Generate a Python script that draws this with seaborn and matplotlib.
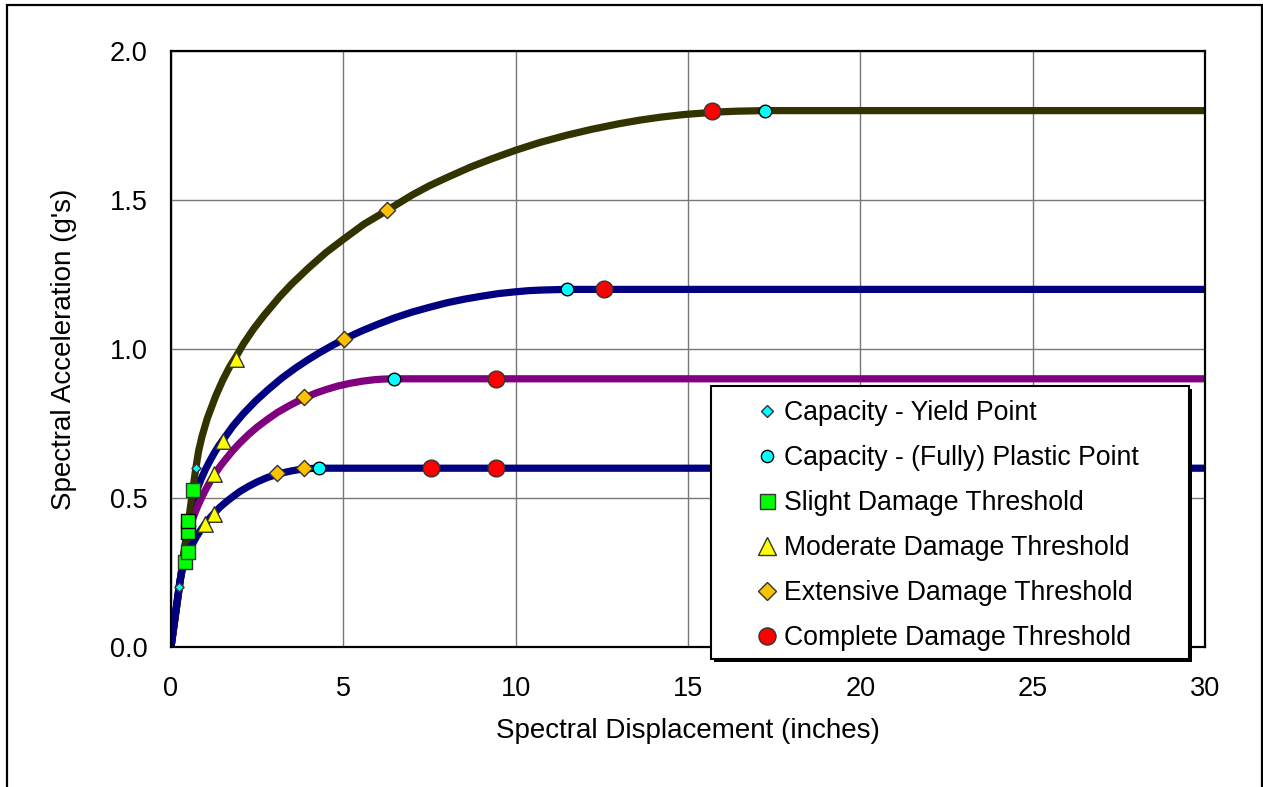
import matplotlib
matplotlib.use("Agg")
import matplotlib.pyplot as plt
from matplotlib.lines import Line2D
from matplotlib.patches import Rectangle
import seaborn as sns

# Capacity curves: spectral displacement (inches) vs spectral acceleration (g)
olive_sd = [0, 0.72, 0.8, 0.9, 1.05, 1.16, 1.3, 1.5, 1.7, 1.89, 2.1, 2.4, 2.7, 3.15,
            3.5, 4.0, 4.5, 5.0, 5.6, 6.28, 7.0, 7.5, 8.0, 8.7, 9.3, 10.0, 10.7, 11.5,
            12.2, 13.0, 13.6, 14.2, 14.9, 15.7, 16.0, 16.4, 17.24, 30]
olive_sa = [0, 0.60, 0.657, 0.707, 0.766, 0.80, 0.843, 0.895, 0.940, 0.975, 1.017,
            1.068, 1.113, 1.175, 1.218, 1.273, 1.324, 1.368, 1.419, 1.466, 1.517,
            1.548, 1.575, 1.611, 1.638, 1.667, 1.693, 1.718, 1.737, 1.756, 1.768,
            1.778, 1.787, 1.794, 1.796, 1.798, 1.80, 1.80]

navy_hi_sd = [0, 0.48, 0.54, 0.6, 0.68, 0.77, 0.88, 1.0, 1.13, 1.26, 1.39, 1.52, 1.8,
              2.1, 2.45, 2.8, 3.2, 3.6, 3.95, 4.3, 4.65, 5.02, 5.5, 6.0, 6.5, 7.0, 7.5,
              8.0, 8.5, 9.0, 9.5, 10.0, 10.4, 10.8, 11.1, 11.5, 30]
navy_hi_sa = [0, 0.40, 0.44, 0.47, 0.503, 0.533, 0.565, 0.596, 0.625, 0.652, 0.676,
              0.697, 0.742, 0.783, 0.825, 0.862, 0.901, 0.935, 0.962, 0.987, 1.010,
              1.033, 1.059, 1.083, 1.105, 1.124, 1.140, 1.155, 1.167, 1.177, 1.186,
              1.192, 1.196, 1.198, 1.199, 1.20, 1.20]

purple_sd = [0, 0.36, 0.4, 0.45, 0.5, 0.55, 0.6, 0.65, 0.72, 0.8, 0.9, 1.0, 1.13, 1.26,
             1.43, 1.6, 1.8, 2.0, 2.25, 2.5, 2.8, 3.1, 3.45, 3.85, 4.2, 4.5, 4.85, 5.2,
             5.55, 5.9, 6.15, 6.46, 30]
purple_sa = [0, 0.30, 0.329, 0.357, 0.380, 0.401, 0.419, 0.436, 0.457, 0.479, 0.504,
             0.527, 0.554, 0.578, 0.607, 0.632, 0.660, 0.685, 0.713, 0.738, 0.764,
             0.788, 0.811, 0.835, 0.852, 0.864, 0.876, 0.885, 0.892, 0.897, 0.899,
             0.90, 0.90]

navy_lo_sd = [0, 0.23, 0.26, 0.3, 0.35, 0.4, 0.45, 0.5, 0.6, 0.7, 0.83, 0.99, 1.12,
              1.26, 1.42, 1.6, 1.8, 2.0, 2.25, 2.5, 2.8, 3.08, 3.3, 3.5, 3.7, 3.86,
              4.05, 4.29, 30]
navy_lo_sa = [0, 0.20, 0.222, 0.244, 0.266, 0.284, 0.300, 0.315, 0.340, 0.362, 0.387,
              0.413, 0.432, 0.45, 0.469, 0.487, 0.505, 0.522, 0.539, 0.554, 0.569,
              0.579, 0.586, 0.591, 0.595, 0.597, 0.599, 0.60, 0.60]

# Points marked on the curves
yield_sd = [0.72, 0.23]
yield_sa = [0.60, 0.20]
plastic_sd = [17.24, 11.49, 6.46, 4.29]
plastic_sa = [1.80, 1.20, 0.90, 0.60]
slight_sd = [0.63, 0.41, 0.50]
slight_sa = [0.527, 0.286, 0.318]
slight_dark_sd = [0.50, 0.50]
slight_dark_sa = [0.387, 0.423]
moderate_sd = [1.89, 1.52, 1.26, 1.26, 0.99]
moderate_sa = [0.965, 0.69, 0.58, 0.445, 0.412]
extensive_sd = [6.28, 5.02, 3.85, 3.08, 3.86]
extensive_sa = [1.466, 1.033, 0.838, 0.583, 0.60]
complete_sd = [15.71, 12.57, 9.44, 7.54, 9.43]
complete_sa = [1.797, 1.20, 0.90, 0.60, 0.60]

legend_labels = ["Capacity - Yield Point", "Capacity - (Fully) Plastic Point",
                 "Slight Damage Threshold", "Moderate Damage Threshold",
                 "Extensive Damage Threshold", "Complete Damage Threshold"]

x_ticks = [0, 5, 10, 15, 20, 25, 30]
y_ticks = [0.0, 0.5, 1.0, 1.5, 2.0]
y_tick_labels = ["0.0", "0.5", "1.0", "1.5", "2.0"]

sns.set_theme(style="white")
plt.rcParams["font.family"] = ["Liberation Sans", "DejaVu Sans"]
plt.rcParams["text.color"] = "black"

W, H = 1263, 787
fig = plt.figure(figsize=(W / 100, H / 100), dpi=100)
fig.patch.set_facecolor("white")
ax = fig.add_axes([171 / W, 140 / H, 1034 / W, 596 / H])

OLIVE, NAVY, PURPLE = "#333300", "#000080", "#800080"
LW = 5.2
curves = [(navy_hi_sd, navy_hi_sa, NAVY), (purple_sd, purple_sa, PURPLE),
          (olive_sd, olive_sa, OLIVE), (navy_lo_sd, navy_lo_sa, NAVY)]
for sd, sa, col in curves:
    sns.lineplot(x=sd, y=sa, ax=ax, color=col, lw=LW, sort=False, estimator=None,
                 solid_capstyle="butt", solid_joinstyle="round", zorder=3)

EDGE = "#333333"
marker_specs = [
    # x, y, marker, area, face, edge, zorder
    (yield_sd, yield_sa, "D", 22, "#00FFFF", EDGE, 5),
    (plastic_sd, plastic_sa, "o", 82, "#00FFFF", "black", 5),
    (slight_sd, slight_sa, "s", 90, "#00FF00", EDGE, 5),
    (slight_dark_sd, slight_dark_sa, "s", 90, "#00FF00", "black", 5),
    (moderate_sd, moderate_sa, "^", 125, "#FFFF00", EDGE, 6),
    (extensive_sd, extensive_sa, "D", 68, "#FFC000", EDGE, 6),
    (complete_sd, complete_sa, "o", 145, "#FF0000", EDGE, 6),
]
for xs, ys, mk, area, face, edge, z in marker_specs:
    sns.scatterplot(x=xs, y=ys, ax=ax, marker=mk, s=area, color=face,
                    edgecolor=edge, linewidth=1.0, zorder=z, legend=False)

ax.set_xlim(0, 30)
ax.set_ylim(0, 2)
ax.set_xticks(x_ticks)
ax.set_yticks(y_ticks)
ax.set_yticklabels(y_tick_labels)
ax.grid(True, color="#777777", lw=1.0)
ax.set_axisbelow(True)
for sp in ax.spines.values():
    sp.set_color("black")
    sp.set_linewidth(1.6)
    sp.set_zorder(4)
ax.tick_params(axis="both", direction="out", length=5, width=1.0, color="#808080",
               labelsize=19.5, labelcolor="black")
ax.tick_params(axis="x", pad=16)
ax.tick_params(axis="y", pad=12)
ax.set_xlabel("Spectral Displacement (inches)", fontsize=20, color="black")
ax.set_ylabel("Spectral Acceleration (g's)", fontsize=20, color="black")
ax.xaxis.set_label_coords(0.5, -0.119)
ax.yaxis.set_label_coords(-0.091, 0.5)

# Legend box with a drop shadow
bx0, bx1, by0, by1 = 711, 1189, 386, 659
shadow = Rectangle(((bx0 + 3) / W, (H - by1 - 3) / H), (bx1 - bx0) / W, (by1 - by0) / H,
                   transform=fig.transFigure, facecolor="black", edgecolor="black",
                   lw=0, zorder=3.5)
box = Rectangle((bx0 / W, (H - by1) / H), (bx1 - bx0) / W, (by1 - by0) / H,
                transform=fig.transFigure, facecolor="white", edgecolor="black",
                lw=1.5, zorder=4)
fig.add_artist(shadow)
fig.add_artist(box)

legend_marker_sizes = [6.2, 8.8, 10.8, 13.0, 8.8, 12.3]
handles = []
for spec, ms in zip([marker_specs[0], marker_specs[1], marker_specs[2],
                     marker_specs[4], marker_specs[5], marker_specs[6]],
                    legend_marker_sizes):
    _, _, mk, _, face, edge, _ = spec
    handles.append(Line2D([], [], ls="none", marker=mk, markersize=ms,
                          markerfacecolor=face, markeredgecolor=edge,
                          markeredgewidth=1.0))
leg = fig.legend(handles, legend_labels, loc="upper left",
                 bbox_to_anchor=(754 / W, (H - 400) / H), bbox_transform=fig.transFigure,
                 frameon=False, borderpad=0, borderaxespad=0, handlelength=1.0,
                 handletextpad=0.12, labelspacing=0.715, fontsize=19.2,
                 labelcolor="black")
leg.set_zorder(6)

# Outer chart border
fig.add_artist(Rectangle((7 / W, -0.02), (1262 - 7) / W, (H - 5) / H + 0.02,
                         transform=fig.transFigure, fill=False, edgecolor="black",
                         lw=1.6, zorder=7))

fig.savefig("out.png", dpi=100, facecolor="white")
